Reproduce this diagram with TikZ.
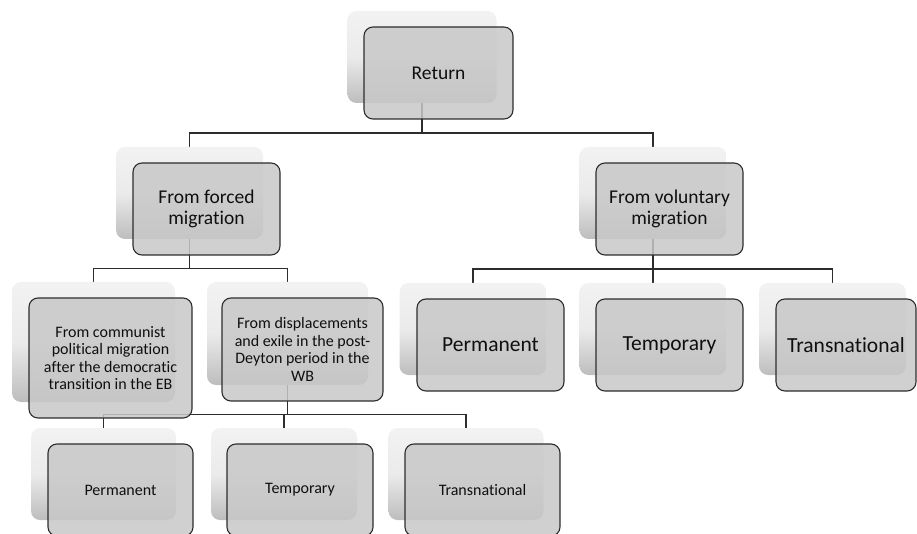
\documentclass[tikz,border=0pt]{standalone}
\usepackage{fontspec}
\setmainfont{Carlito}[Ligatures=NoCommon]
\usetikzlibrary{calc}
\pgfdeclarelayer{bg}
\pgfsetlayers{bg,main}
\definecolor{boxfill}{RGB}{200,200,200}
\definecolor{boxline}{RGB}{45,45,45}
\definecolor{txt}{RGB}{15,15,15}
\tikzset{
  card/.style={draw=boxline, line width=1.1pt, rounded corners=9pt, fill=boxfill,
    fill opacity=0.85, text opacity=1, text=txt, align=center, inner sep=0pt, outer sep=0pt},
  ghost/.style={rounded corners=9pt, top color=black!5, bottom color=black!26,
    middle color=black!8, inner sep=0pt, outer sep=0pt, draw=none},
  link/.style={draw=boxline, line width=1.1pt},
  bigtxt/.style={font=\fontsize{19.5}{21}\selectfont},
  leaftxt/.style={font=\fontsize{21.5}{23}\selectfont},
  smalltxt/.style={font=\fontsize{16}{17.6}\selectfont},
}
\begin{document}
\begin{tikzpicture}[x=1pt,y=-1pt]
\useasboundingbox (0,0) rectangle (917,534);
% shadows
\node[ghost, minimum width=149pt, minimum height=92pt] (rets) at (422,57) {};
\node[ghost, minimum width=147pt, minimum height=92pt] (forceds) at (189.5,193) {};
\node[ghost, minimum width=147pt, minimum height=92pt] (vols) at (653,193) {};
\node[ghost, minimum width=163pt, minimum height=120pt] (comms) at (93.5,342) {};
\node[ghost, minimum width=161pt, minimum height=103pt] (disps) at (287.5,333.5) {};
\node[ghost, minimum width=147pt, minimum height=92pt] (rperms) at (473,329) {};
\node[ghost, minimum width=147pt, minimum height=92pt] (rtemps) at (653,329) {};
\node[ghost, minimum width=147pt, minimum height=92pt] (rtranss) at (832.5,329) {};
\node[ghost, minimum width=145pt, minimum height=92pt] (bperms) at (103.5,474) {};
\node[ghost, minimum width=146pt, minimum height=92pt] (btemps) at (284,474) {};
\node[ghost, minimum width=155pt, minimum height=92pt] (btranss) at (466,474) {};
% boxes
\node[card, bigtxt, minimum width=149pt, minimum height=92pt] (ret) at (438.5,73) {Return};
\node[card, bigtxt, minimum width=147pt, minimum height=92pt] (forced) at (206.5,209) {From forced\\migration};
\node[card, bigtxt, minimum width=147pt, minimum height=92pt] (vol) at (669.5,209) {From voluntary\\migration};
\node[card, smalltxt, minimum width=163pt, minimum height=120pt] (comm) at (110.5,358)
  {From communist\\political migration\\after the democratic\\transition in the EB};
\node[card, smalltxt, minimum width=161pt, minimum height=103pt] (disp) at (302.5,349.5)
  {From displacements\\and exile in the post-\\Deyton period in the\\WB};
\node[card, leaftxt, minimum width=147pt, minimum height=92pt] (rperm) at (490.5,345) {Permanent};
\node[card, leaftxt, minimum width=147pt, minimum height=92pt] (rtemp) at (669.5,345) {Temporary};
\node[card, leaftxt, minimum width=140pt, minimum height=92pt] (rtrans) at (846,345) {Transnational};
\node[card, smalltxt, minimum width=145pt, minimum height=92pt] (bperm) at (120.5,490) {Permanent};
\node[card, smalltxt, minimum width=146pt, minimum height=92pt] (btemp) at (300,490) {Temporary};
\node[card, smalltxt, minimum width=155pt, minimum height=92pt] (btrans) at (482.5,490) {Transnational};
% connectors
\begin{pgfonlayer}{bg}
\draw[link] (rets.center) |- ($(ret.south)!0.5!(forceds.north)$) -| (forceds.north);
\draw[link] (rets.center) |- ($(ret.south)!0.5!(vols.north)$) -| (vols.north);
\draw[link] (forceds.center) |- ($(forced.south)!0.5!(comms.north)$) -| (comms.north);
\draw[link] (forceds.center) |- ($(forced.south)!0.5!(disps.north)$) -| (disps.north);
\draw[link] (vols.center) |- ($(vol.south)!0.5!(rperms.north)$) -| (rperms.north);
\draw[link] (vols.center) |- ($(vol.south)!0.5!(rtemps.north)$) -| (rtemps.north);
\draw[link] (vols.center) |- ($(vol.south)!0.5!(rtranss.north)$) -| (rtranss.north);
\draw[link] (disps.center) |- ($(disp.south)!0.5!(bperms.north)$) -| (bperms.north);
\draw[link] (disps.center) |- ($(disp.south)!0.5!(btemps.north)$) -| (btemps.north);
\draw[link] (disps.center) |- ($(disp.south)!0.5!(btranss.north)$) -| (btranss.north);
\end{pgfonlayer}
\end{tikzpicture}
\end{document}
